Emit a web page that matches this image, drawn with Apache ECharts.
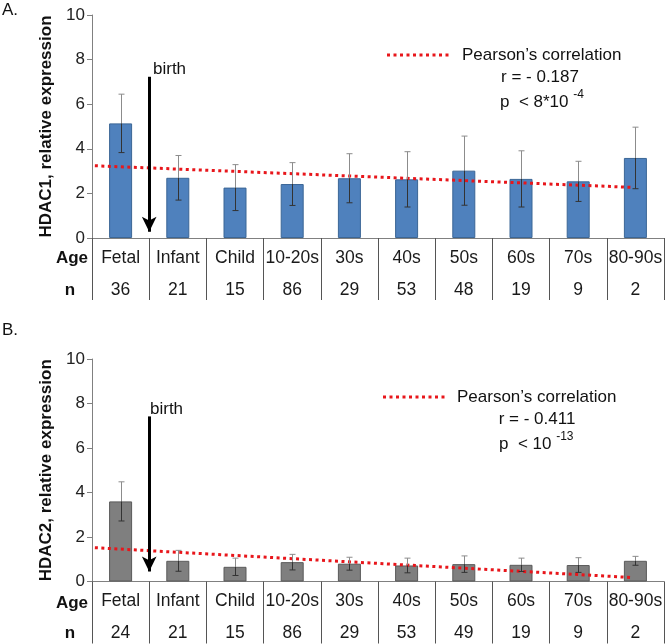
<!DOCTYPE html>
<html><head><meta charset="utf-8">
<script src="https://cdn.jsdelivr.net/npm/echarts@6/dist/echarts.min.js"></script>
<style>html,body{margin:0;padding:0;background:#fff}#c{width:666px;height:644px}</style>
</head><body><div id="c"></div>
<script>
const categories = ['Fetal','Infant','Child','10-20s','30s','40s','50s','60s','70s','80-90s'];
const hdac1 = [5.14,2.70,2.26,2.42,2.68,2.63,3.02,2.65,2.54,3.59];
const hdac1Err = [1.31,1.00,1.03,0.96,1.10,1.24,1.55,1.26,0.90,1.38];
const n1 = [36,21,15,86,29,53,48,19,9,2];
const hdac2 = [3.60,0.93,0.66,0.87,0.80,0.72,0.78,0.75,0.74,0.93];
const hdac2Err = [0.88,0.47,0.39,0.35,0.29,0.33,0.37,0.30,0.33,0.20];
const n2 = [24,21,15,86,29,53,49,19,9,2];
const trend1 = [[0.05,3.24],[9.46,2.27]];
const trend2 = [[0.05,1.52],[9.43,0.18]];
const birth1 = [[1.0,7.23],[1.0,0.28]];
const birth2 = [[1.0,7.42],[1.0,0.45]];
const yTicks = {min:0,max:10,interval:2};

const FONT = '"Liberation Sans", Arial, sans-serif';
const chart = echarts.init(document.getElementById('c'));

function catAxis(grid, nArr){
  return {type:'category', gridIndex:grid, data:categories, boundaryGap:true,
    axisLine:{show:true,lineStyle:{color:'#808080',width:1}},
    axisTick:{show:true,length:62,lineStyle:{color:'#555',width:1}},
    axisLabel:{margin:4, interval:0, fontFamily:FONT,
      formatter:(v,i)=>'{a|'+v+'}\n{b|'+nArr[i]+'}',
      rich:{a:{fontSize:17.5,lineHeight:32,color:'#1a1a1a',fontFamily:FONT},
            b:{fontSize:17.5,lineHeight:32,color:'#1a1a1a',fontFamily:FONT}}}};
}
function valX(grid){
  return {type:'value', gridIndex:grid, min:0, max:10, show:false};
}
function yAx(grid, name){
  return {type:'value', gridIndex:grid, min:yTicks.min, max:yTicks.max, interval:yTicks.interval,
    name:name, nameLocation:'middle', nameGap:34,
    nameTextStyle:{fontSize:17,fontWeight:'bold',color:'#111',fontFamily:FONT},
    axisLine:{show:true,lineStyle:{color:'#808080'}},
    axisTick:{show:true,length:5,lineStyle:{color:'#808080'}},
    splitLine:{show:false},
    axisLabel:{fontSize:17,color:'#222',margin:7,fontFamily:FONT}};
}
function errSeries(xi, yi, vals, errs){
  return {type:'custom', xAxisIndex:xi, yAxisIndex:yi, z:5,
    data: vals.map((v,i)=>[i,v,errs[i]]),
    renderItem:(params, api)=>{
      const i=api.value(0), v=api.value(1), e=api.value(2);
      const pv=api.coord([i,v]), ph=api.coord([i,v+e]), pl=api.coord([i,v-e]);
      const x=Math.round(pv[0])+0.5, c=3;
      return {type:'group', children:[
        {type:'line',shape:{x1:x,y1:ph[1],x2:x,y2:pv[1]},style:{stroke:'#8c8c8c',lineWidth:1}},
        {type:'line',shape:{x1:x-c,y1:ph[1],x2:x+c,y2:ph[1]},style:{stroke:'#8c8c8c',lineWidth:1}},
        {type:'line',shape:{x1:x,y1:pv[1],x2:x,y2:pl[1]},style:{stroke:'#333',lineWidth:1}},
        {type:'line',shape:{x1:x-c,y1:pl[1],x2:x+c,y2:pl[1]},style:{stroke:'#333',lineWidth:1}}
      ]};
    }};
}
function trendSeries(xi, yi, data, birth){
  return {type:'line', xAxisIndex:xi, yAxisIndex:yi, data:data, symbol:'none', z:4,
    lineStyle:{color:'#e8161b',width:3,type:[3,3.5],cap:'butt'},
    silent:true,
    markLine:{silent:true, symbol:['none','arrow'], symbolSize:[11,15], label:{show:false},
      lineStyle:{color:'#000',width:3,type:'solid'},
      data:[[{coord:birth[0]},{coord:birth[1]}]]}};
}
const txt = (left, top, text, extra) => Object.assign({type:'text', left:left, top:top,
  style:{text:text, fontSize:17, fill:'#111', fontFamily:FONT}}, extra||{});

function legendGroup(x0, y0, lineLen, rText, pMain, pSup, rX, pX){
  return [
    {type:'line', shape:{x1:x0,y1:y0,x2:x0+lineLen,y2:y0}, style:{stroke:'#e8161b',lineWidth:3,lineDash:[3,3.5]}},
    {type:'text', x:x0+lineLen+10, y:y0, style:{text:'Pearson’s correlation', fontSize:17, fill:'#111', fontFamily:FONT, verticalAlign:'middle'}},
    {type:'text', x:rX, y:y0+22, style:{text:rText, fontSize:17, fill:'#111', fontFamily:FONT, verticalAlign:'middle', align:'center'}},
    {type:'text', x:pX, y:y0+45, style:{text:'{m|'+pMain+'}{s|'+pSup+'}', fontFamily:FONT, verticalAlign:'middle',
      rich:{m:{fontSize:17,fill:'#111',fontFamily:FONT,lineHeight:22,verticalAlign:'bottom'},
            s:{fontSize:12,fill:'#111',fontFamily:FONT,lineHeight:22,verticalAlign:'top'}}}}
  ];
}

chart.setOption({
  animation:false,
  textStyle:{fontFamily:FONT},
  grid:[{left:92,right:2,top:15,height:223},{left:92,right:2,top:359,height:222.5}],
  xAxis:[catAxis(0,n1), valX(0), catAxis(1,n2), valX(1)],
  yAxis:[yAx(0,'HDAC1, relative expression'), yAx(1,'HDAC2, relative expression')],
  series:[
    {type:'bar', xAxisIndex:0, yAxisIndex:0, data:hdac1, barWidth:23,
      itemStyle:{color:'#4f81bd',borderColor:'#3b6696',borderWidth:1}},
    errSeries(0,0,hdac1,hdac1Err),
    trendSeries(1,0,trend1,birth1),
    {type:'bar', xAxisIndex:2, yAxisIndex:1, data:hdac2, barWidth:23,
      itemStyle:{color:'#7f7f7f',borderColor:'#5a5a5a',borderWidth:1}},
    errSeries(2,1,hdac2,hdac2Err),
    trendSeries(3,1,trend2,birth2)
  ],
  graphic:[
    txt(2,2,'A.'),
    txt(2,322,'B.'),
    {type:'text', x:153, y:69, style:{text:'birth', fontSize:17, fill:'#111', fontFamily:FONT, verticalAlign:'middle'}},
    {type:'text', x:150, y:409, style:{text:'birth', fontSize:17, fill:'#111', fontFamily:FONT, verticalAlign:'middle'}},
    {type:'text', x:72, y:258, style:{text:'Age', fontSize:17, fontWeight:'bold', fill:'#111', fontFamily:FONT, align:'center', verticalAlign:'middle'}},
    {type:'text', x:70, y:290, style:{text:'n', fontSize:17, fontWeight:'bold', fill:'#111', fontFamily:FONT, align:'center', verticalAlign:'middle'}},
    {type:'text', x:72, y:603, style:{text:'Age', fontSize:17, fontWeight:'bold', fill:'#111', fontFamily:FONT, align:'center', verticalAlign:'middle'}},
    {type:'text', x:70, y:633, style:{text:'n', fontSize:17, fontWeight:'bold', fill:'#111', fontFamily:FONT, align:'center', verticalAlign:'middle'}},
    ...legendGroup(387,55,65,'r = - 0.187','p  < 8*10 ','-4',540,500),
    ...legendGroup(383,397,64,'r = - 0.411','p  < 10 ','-13',537,499)
  ]
});
</script></body></html>
